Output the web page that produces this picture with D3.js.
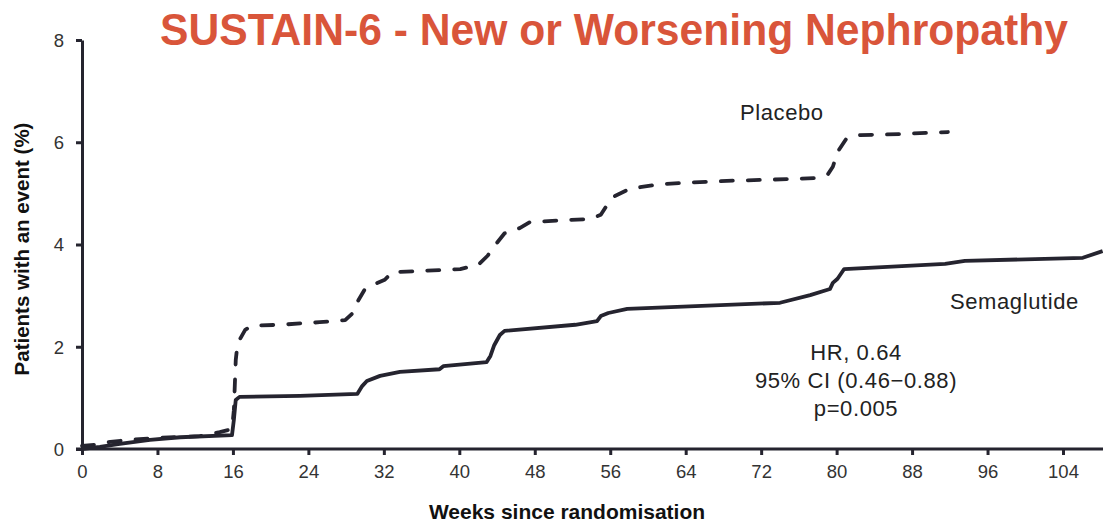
<!DOCTYPE html>
<html>
<head>
<meta charset="utf-8">
<script src="https://cdn.jsdelivr.net/npm/d3@7"></script>
<style>
  html, body { margin: 0; padding: 0; background: #fff; }
  svg { display: block; }
  text { font-family: "Liberation Sans", Arial, sans-serif; }
</style>
</head>
<body>
<svg id="chart" width="1103" height="523"></svg>
<script>
// Cumulative incidence, new or worsening nephropathy (weeks, %)
const placeboWeeks = [0, 1.4, 3.0, 5.1, 8.3, 12.5, 14.6, 15.9, 16.1, 16.3, 16.5, 17.3, 18.0, 21.0, 25.2, 27.9, 28.6, 29.3, 30.0, 31.1, 32.1, 32.9, 35.8, 40.1, 42.0, 43.0, 43.8, 44.8, 46.4, 47.5, 53.9, 55.0, 55.8, 56.5, 58.1, 61.3, 67.6, 75.1, 77.7, 79.1, 79.6, 80.1, 81.0, 82.5, 86.7, 91.8];
const placeboPct   = [0.06, 0.08, 0.14, 0.18, 0.22, 0.25, 0.33, 0.39, 0.76, 1.74, 2.07, 2.33, 2.41, 2.43, 2.48, 2.52, 2.64, 2.91, 3.13, 3.23, 3.31, 3.46, 3.48, 3.52, 3.60, 3.78, 3.99, 4.22, 4.32, 4.44, 4.50, 4.58, 4.81, 4.95, 5.09, 5.18, 5.24, 5.28, 5.30, 5.38, 5.52, 5.81, 6.06, 6.14, 6.16, 6.20];

const semaWeeks = [0, 1.9, 4.0, 7.2, 10.4, 15.9, 16.1, 16.3, 16.7, 23.1, 29.2, 29.7, 30.2, 31.6, 33.7, 37.9, 38.3, 42.9, 43.3, 43.7, 44.3, 44.8, 52.3, 54.6, 55.0, 55.8, 57.8, 74.0, 77.2, 79.3, 79.6, 80.1, 80.8, 91.5, 93.6, 106.1, 108.2];
const semaPct   = [0, 0.04, 0.10, 0.18, 0.23, 0.27, 0.57, 0.96, 1.02, 1.04, 1.08, 1.23, 1.33, 1.43, 1.51, 1.56, 1.62, 1.70, 1.82, 2.03, 2.23, 2.31, 2.43, 2.50, 2.60, 2.66, 2.74, 2.86, 3.01, 3.13, 3.25, 3.33, 3.52, 3.62, 3.68, 3.74, 3.87];

const xTicks = [0, 8, 16, 24, 32, 40, 48, 56, 64, 72, 80, 88, 96, 104];
const yTicks = [0, 2, 4, 6, 8];

const titleText = "SUSTAIN-6 - New or Worsening Nephropathy";
const xTitle = "Weeks since randomisation";
const yTitle = "Patients with an event (%)";
const statsLines = ["HR, 0.64", "95% CI (0.46\u22120.88)", "p=0.005"];

const ink = "#25242f";
const svg = d3.select("#chart");

const x = d3.scaleLinear().domain([0, 104]).range([82, 1063]);
const y = d3.scaleLinear().domain([0, 8]).range([449, 40]);

// Axes
const xAxis = svg.append("g").attr("transform", `translate(0,${y(0)})`)
  .call(d3.axisBottom(x).tickValues(xTicks).tickSize(6).tickSizeOuter(0).tickPadding(10));
const yAxis = svg.append("g").attr("transform", `translate(${x(0)},0)`)
  .call(d3.axisLeft(y).tickValues(yTicks).tickSize(6).tickSizeOuter(0).tickPadding(12));

xAxis.select(".domain").attr("d", `M${x(0) - 6},0H1103`);
[xAxis, yAxis].forEach(g => {
  g.select(".domain").attr("stroke", ink).attr("stroke-width", 3);
  g.selectAll(".tick line").attr("stroke", ink).attr("stroke-width", 3);
  g.selectAll(".tick text").attr("fill", "#333").attr("font-size", 18.5)
    .attr("font-family", "Liberation Sans, Arial, sans-serif");
});
yAxis.selectAll(".tick text").attr("dy", "0.34em");

// Curves
const line = d3.line().x(d => x(d[0])).y(d => y(d[1]));
const placebo = d3.zip(placeboWeeks, placeboPct);
const sema = d3.zip(semaWeeks, semaPct);

svg.append("path").datum(placebo)
  .attr("d", line).attr("fill", "none").attr("stroke", ink)
  .attr("stroke-width", 3.8).attr("stroke-linecap", "round")
  .attr("stroke-linejoin", "round").attr("stroke-dasharray", "12,15");

svg.append("path").datum(sema)
  .attr("d", line).attr("fill", "none").attr("stroke", ink)
  .attr("stroke-width", 3.8).attr("stroke-linejoin", "round");

// Title
svg.append("text").attr("x", 160).attr("y", 45)
  .attr("font-family", "Liberation Sans Narrow, Arial Narrow, Liberation Sans, sans-serif")
  .attr("font-weight", "bold").attr("font-size", 44).attr("fill", "#d9553a")
  .attr("textLength", 908).attr("lengthAdjust", "spacingAndGlyphs")
  .text(titleText);

// Axis titles
svg.append("text").attr("x", 567).attr("y", 519).attr("text-anchor", "middle")
  .attr("font-weight", "bold").attr("font-size", 21).attr("fill", "#111")
  .text(xTitle);
svg.append("text").attr("transform", "translate(29,249) rotate(-90)")
  .attr("text-anchor", "middle").attr("font-weight", "bold")
  .attr("font-size", 20.5).attr("fill", "#111").text(yTitle);

// Series labels
svg.append("text").attr("x", 740).attr("y", 120).attr("font-size", 22)
  .attr("letter-spacing", 0.6).attr("fill", "#222").text("Placebo");
svg.append("text").attr("x", 950).attr("y", 309).attr("font-size", 22)
  .attr("letter-spacing", 0.6).attr("fill", "#222").text("Semaglutide");

// Hazard ratio summary
svg.append("g").selectAll("text").data(statsLines).join("text")
  .attr("x", 856).attr("y", (d, i) => 360 + i * 28)
  .attr("text-anchor", "middle").attr("font-size", 22)
  .attr("letter-spacing", 0.6).attr("fill", "#222")
  .text(d => d);
</script>
</body>
</html>
